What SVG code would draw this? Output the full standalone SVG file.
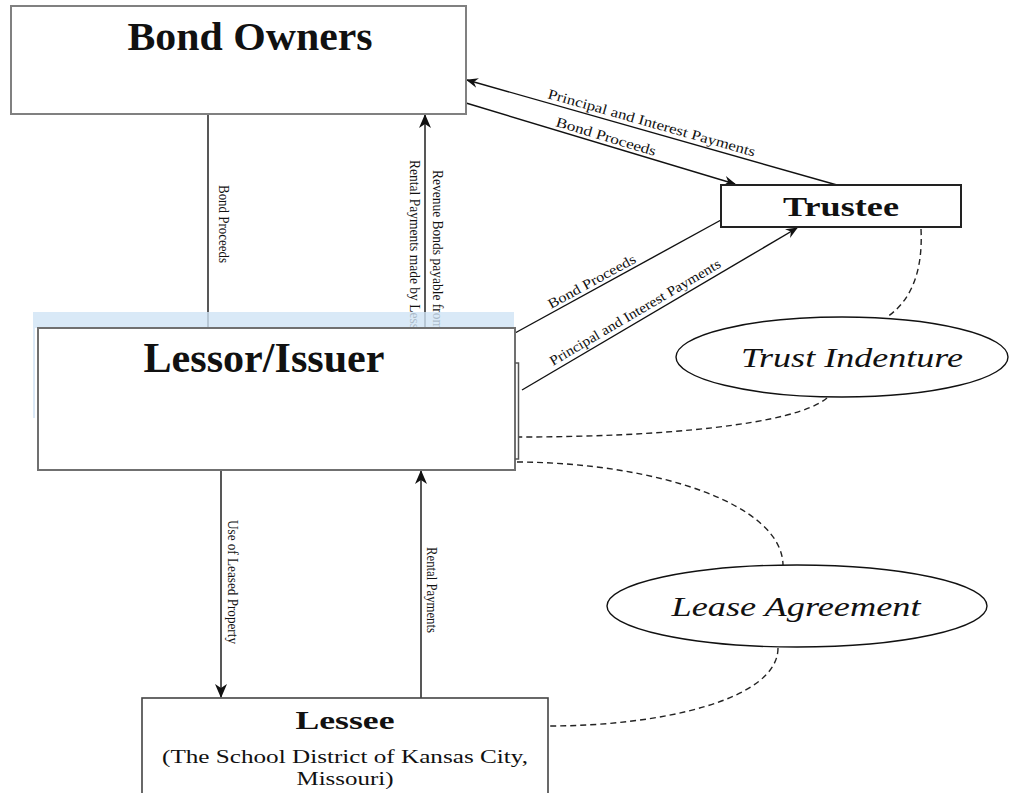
<svg xmlns="http://www.w3.org/2000/svg" width="1010" height="793" viewBox="0 0 1010 793">
<style>
.box{fill:#fff}
.ln{stroke:#111;stroke-width:1.4;fill:none}
.dash{stroke:#222;stroke-width:1.4;fill:none;stroke-dasharray:6 4}
.lbl{font-family:"Liberation Serif",serif;font-size:14px;fill:#111}
.vl{font-family:"Liberation Serif",serif;font-size:15px;fill:#111}
.title{font-family:"Liberation Serif",serif;font-weight:bold;fill:#111}
.ital{font-family:"Liberation Serif",serif;font-style:italic;fill:#111}
</style>
<defs>
<marker id="ahL" viewBox="0 0 14 12" refX="13" refY="6" markerWidth="14" markerHeight="12" orient="auto" markerUnits="userSpaceOnUse"><path d="M0,0 L14,6 L0,12 L4,6 z" fill="#111"/></marker>
<marker id="ahS" viewBox="0 0 12 10" refX="11" refY="5" markerWidth="12" markerHeight="10" orient="auto" markerUnits="userSpaceOnUse"><path d="M0,0 L12,5 L0,10 L4,5 z" fill="#111"/></marker>
</defs>
<rect width="1010" height="793" fill="#fff"/>

<g id="connectors">
  <line class="ln" x1="208" y1="114" x2="208" y2="328"/>
  <text class="vl" transform="translate(219,185) rotate(90)" textLength="78" lengthAdjust="spacingAndGlyphs">Bond Proceeds</text>
  <line class="ln" x1="425" y1="328" x2="425" y2="115" marker-end="url(#ahL)"/>
  <text class="vl" transform="translate(433,170) rotate(90)" textLength="160" lengthAdjust="spacingAndGlyphs">Revenue Bonds payable from</text>
  <text class="vl" transform="translate(410,160) rotate(90)" textLength="181" lengthAdjust="spacingAndGlyphs">Rental Payments made by Lessee</text>

  <line class="ln" x1="221" y1="470" x2="221" y2="697" marker-end="url(#ahL)"/>
  <text class="vl" transform="translate(228,520) rotate(90)" textLength="124" lengthAdjust="spacingAndGlyphs">Use of Leased Property</text>
  <line class="ln" x1="421" y1="698" x2="421" y2="471" marker-end="url(#ahL)"/>
  <text class="vl" transform="translate(427,547) rotate(90)" textLength="86" lengthAdjust="spacingAndGlyphs">Rental Payments</text>

  <line class="ln" x1="837" y1="185" x2="467" y2="80" marker-end="url(#ahS)"/>
  <text class="lbl" transform="translate(547,98) rotate(15.8)" textLength="215" lengthAdjust="spacingAndGlyphs">Principal and Interest Payments</text>
  <line class="ln" x1="466" y1="103" x2="735" y2="184" marker-end="url(#ahS)"/>
  <text class="lbl" transform="translate(555,126) rotate(16.8)" textLength="104" lengthAdjust="spacingAndGlyphs">Bond Proceeds</text>

  <line class="ln" x1="721" y1="220" x2="515" y2="333"/>
  <text class="lbl" transform="translate(551,309) rotate(-28.7)" textLength="98" lengthAdjust="spacingAndGlyphs">Bond Proceeds</text>
  <line class="ln" x1="522" y1="390" x2="797" y2="228" marker-end="url(#ahS)"/>
  <text class="lbl" transform="translate(553,366) rotate(-30.5)" textLength="196" lengthAdjust="spacingAndGlyphs">Principal and Interest Payments</text>

  <path class="dash" d="M921,229 C923,270 912,300 887,317"/>
  <path class="dash" d="M827,398 C795,425 660,437 518,437"/>
  <path class="dash" d="M517,462 C660,463 782,505 783,565"/>
  <path class="dash" d="M778,648 C778,700 660,726 549,726"/>
</g>

<rect x="33" y="312" width="481" height="16" fill="#cfe3f5" fill-opacity="0.8"/>
<rect x="33" y="328" width="2" height="90" fill="#dbe9f7"/>

<g id="bond-owners">
  <rect class="box" x="11" y="6" width="455" height="108" stroke="#808080" stroke-width="2"/>
  <text class="title" x="250" y="50" font-size="39" text-anchor="middle" textLength="245" lengthAdjust="spacingAndGlyphs">Bond Owners</text>
</g>

<g id="lessor-issuer">
  <rect class="box" x="38" y="328" width="477" height="142" stroke="#707070" stroke-width="2"/>
  <path d="M515,363 H518.5 V459 H515" fill="none" stroke="#555" stroke-width="1.5"/>
  <text class="title" x="264" y="372" font-size="42" text-anchor="middle" textLength="241" lengthAdjust="spacingAndGlyphs">Lessor/Issuer</text>
</g>

<g id="trustee">
  <rect class="box" x="721" y="185" width="240" height="42" stroke="#222" stroke-width="2"/>
  <text class="title" x="841" y="216" font-size="27" text-anchor="middle" textLength="116" lengthAdjust="spacingAndGlyphs">Trustee</text>
</g>

<g id="trust-indenture">
  <ellipse cx="842" cy="357" rx="166" ry="40" fill="#fff" stroke="#111" stroke-width="1.4"/>
  <text class="ital" x="852" y="367" font-size="27" text-anchor="middle" textLength="222" lengthAdjust="spacingAndGlyphs">Trust Indenture</text>
</g>

<g id="lease-agreement">
  <ellipse cx="797" cy="606" rx="190" ry="41" fill="#fff" stroke="#111" stroke-width="1.4"/>
  <text class="ital" x="796" y="616" font-size="27" text-anchor="middle" textLength="249" lengthAdjust="spacingAndGlyphs">Lease Agreement</text>
</g>

<g id="lessee">
  <rect class="box" x="142" y="698" width="406" height="110" stroke="#444" stroke-width="1.6"/>
  <text class="title" x="345" y="729" font-size="26" text-anchor="middle" textLength="99" lengthAdjust="spacingAndGlyphs">Lessee</text>
  <text x="345" y="763" font-family="'Liberation Serif',serif" font-size="19" fill="#111" text-anchor="middle" textLength="366" lengthAdjust="spacingAndGlyphs">(The School District of Kansas City,</text>
  <text x="345" y="785" font-family="'Liberation Serif',serif" font-size="19" fill="#111" text-anchor="middle" textLength="97" lengthAdjust="spacingAndGlyphs">Missouri)</text>
</g>
</svg>
